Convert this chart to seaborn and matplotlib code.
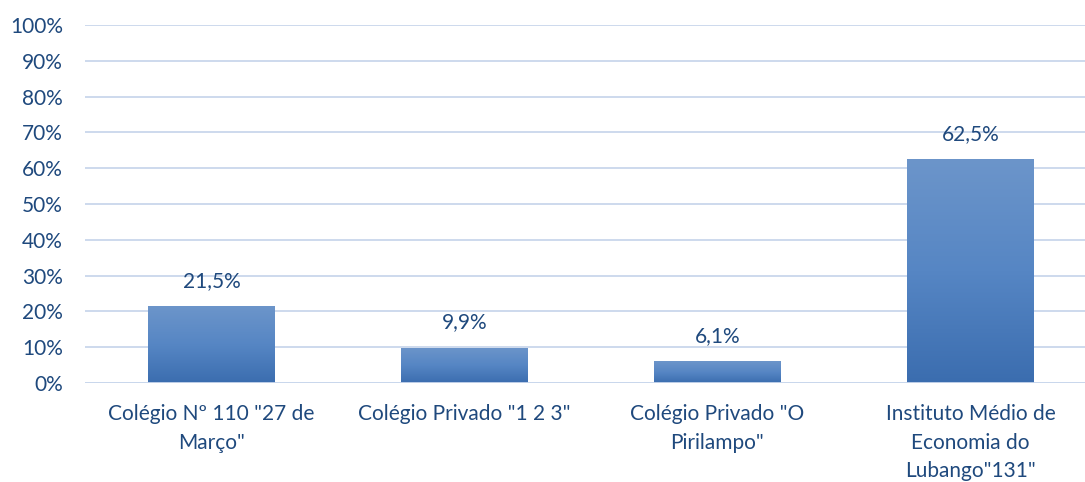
import numpy as np
import pandas as pd
import matplotlib
matplotlib.use("Agg")
import matplotlib.pyplot as plt
from matplotlib.colors import LinearSegmentedColormap
import seaborn as sns

# data
escolas = ['Colégio Nº 110 "27 de\nMarço"', 'Colégio Privado "1 2 3"',
           'Colégio Privado "O\nPirilampo"', 'Instituto Médio de\nEconomia do\nLubango"131"']
percent = [21.5, 9.9, 6.1, 62.5]
rotulos = ["21,5%", "9,9%", "6,1%", "62,5%"]
yticks = [0, 10, 20, 30, 40, 50, 60, 70, 80, 90, 100]

df = pd.DataFrame({"escola": escolas, "pct": percent})

sns.set_style("white")
plt.rcParams["font.family"] = ["Lato", "DejaVu Sans"]
txt = "#1F497D"
grid = "#C9D7EC"

fig = plt.figure(figsize=(10.85, 4.82), dpi=100)
ax = fig.add_axes([85 / 1085, 99 / 482, 1012 / 1085, 358 / 482])

sns.barplot(data=df, x="escola", y="pct", width=0.5, color="#4A7EBB", ax=ax, zorder=3)

# gradient fill on each bar
cmap = LinearSegmentedColormap.from_list("g", ["#3B6DAF", "#5686C4", "#6C95CA"])
grad = np.linspace(0, 1, 256).reshape(-1, 1)
for p in ax.patches:
    x0, y0 = p.get_x(), p.get_y()
    w, h = p.get_width(), p.get_height()
    im = ax.imshow(grad, cmap=cmap, aspect="auto", origin="lower",
                   extent=[x0, x0 + w, y0, y0 + h], zorder=4)
    im.set_clip_path(p)
    p.set_edgecolor("none")

for i, (v, lab) in enumerate(zip(percent, rotulos)):
    ax.text(i, v + 7.0, lab, ha="center", va="center", fontsize=15, color=txt)

ax.set_xlim(-0.5, 3.5)
ax.set_ylim(0, 100)
ax.set_yticks(yticks)
ax.set_yticklabels([f"{t}%" for t in yticks])
ax.yaxis.grid(True, color=grid, linewidth=1.3, zorder=0)
ax.set_axisbelow(True)
for s in ax.spines.values():
    s.set_visible(False)
ax.axhline(0, color=grid, linewidth=1.3, zorder=5)
ax.tick_params(axis="both", length=0, labelsize=15, colors=txt)
ax.tick_params(axis="y", pad=16)
ax.tick_params(axis="x", pad=15)
for t in ax.get_xticklabels():
    t.set_linespacing(1.55)
ax.set_xlabel("")
ax.set_ylabel("")

fig.savefig("out.png", dpi=100)
